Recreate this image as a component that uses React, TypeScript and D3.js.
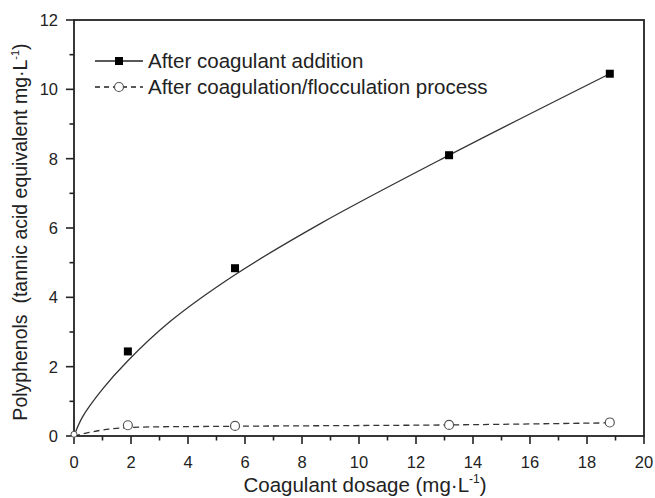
import React from "react";
import * as d3 from "d3";

const dosage = [1.89, 5.65, 13.16, 18.8];
const afterAddition = [2.44, 4.84, 8.1, 10.45];
const afterProcess = [0.31, 0.29, 0.32, 0.39];

// fitted curves
const fitAdditionX = [0, 0.3, 1.0, 1.89, 3.37, 5.65, 8.63, 13.16, 18.8];
const fitAdditionY = [0, 0.55, 1.35, 2.17, 3.3, 4.65, 6.12, 8.1, 10.45];
const fitProcessX = [0, 0.9, 1.89, 5.65, 13.16, 18.8];
const fitProcessY = [0, 0.16, 0.24, 0.28, 0.32, 0.38];

const xMajor = [0, 2, 4, 6, 8, 10, 12, 14, 16, 18, 20];
const yMajor = [0, 2, 4, 6, 8, 10, 12];
const xMinor = d3.range(1, 20, 2);
const yMinor = d3.range(1, 12, 2);

const legendLabels = ["After coagulant addition", "After coagulation/flocculation process"];

const W = 655, H = 498;
const L = 74, R = 644, T = 20, B = 436;
const FONT = "'Liberation Sans', Arial, sans-serif";
const AX = "#222";

export default function App() {
  const x = d3.scaleLinear().domain([0, 20]).range([L, R]);
  const y = d3.scaleLinear().domain([0, 12]).range([B, T]);
  const ptsA = fitAdditionX.map((v, i) => [v, fitAdditionY[i]] as [number, number]);
  const ptsP = fitProcessX.map((v, i) => [v, fitProcessY[i]] as [number, number]);
  const line = d3.line<[number, number]>().x(d => x(d[0])).y(d => y(d[1])).curve(d3.curveCatmullRom.alpha(0.5));

  return (
    <svg width={W} height={H} style={{ position: "absolute", left: 0, top: 0, background: "#fff" }} fontFamily={FONT}>
      <rect width={W} height={H} fill="#fff" />
      {/* curves */}
      <path d={line(ptsA) || ""} fill="none" stroke="#333" strokeWidth={1.3} />
      <path d={line(ptsP) || ""} fill="none" stroke="#333" strokeWidth={1.3} strokeDasharray="6,4" />
      {/* frame */}
      <rect x={L} y={T} width={R - L} height={B - T} fill="none" stroke={AX} strokeWidth={1.8} />
      {/* x ticks */}
      {xMajor.map(v => (
        <g key={"xm" + v}>
          <line x1={x(v)} x2={x(v)} y1={B} y2={B + 8} stroke={AX} strokeWidth={1.6} />
          <text x={x(v)} y={B + 32} textAnchor="middle" fontSize={16.5} fill="#222">{v}</text>
        </g>
      ))}
      {xMinor.map(v => (
        <line key={"xn" + v} x1={x(v)} x2={x(v)} y1={B} y2={B + 4.5} stroke={AX} strokeWidth={1.6} />
      ))}
      {yMajor.map(v => (
        <g key={"ym" + v}>
          <line x1={L - 8} x2={L} y1={y(v)} y2={y(v)} stroke={AX} strokeWidth={1.6} />
          <text x={L - 16} y={y(v) + 6} textAnchor="end" fontSize={16.5} fill="#222">{v}</text>
        </g>
      ))}
      {yMinor.map(v => (
        <line key={"yn" + v} x1={L - 4.5} x2={L} y1={y(v)} y2={y(v)} stroke={AX} strokeWidth={1.6} />
      ))}
      {/* markers */}
      {dosage.map((d, i) => (
        <rect key={"s" + i} x={x(d) - 4} y={y(afterAddition[i]) - 4} width={8} height={8} fill="#000" />
      ))}
      <circle cx={x(0)} cy={y(0.05)} r={3} fill="#fff" stroke="#555" strokeWidth={1} />
      {dosage.map((d, i) => (
        <circle key={"c" + i} cx={x(d)} cy={y(afterProcess[i])} r={4.5} fill="#fff" stroke="#555" strokeWidth={1.2} />
      ))}
      {/* legend */}
      <g>
        <line x1={95} x2={143} y1={61} y2={61} stroke="#222" strokeWidth={1.3} />
        <rect x={115} y={57} width={8} height={8} fill="#000" />
        <text x={148} y={68} fontSize={20.5} fill="#222">{legendLabels[0]}</text>
        <line x1={95} x2={143} y1={87} y2={87} stroke="#222" strokeWidth={1.3} strokeDasharray="5,4" />
        <circle cx={119} cy={87} r={4.5} fill="#fff" stroke="#555" strokeWidth={1.2} />
        <text x={148} y={94} fontSize={20.5} fill="#222">{legendLabels[1]}</text>
      </g>
      {/* axis titles */}
      <text x={(L + R) / 2 + 6} y={492} textAnchor="middle" fontSize={20.5} fill="#222">
        Coagulant dosage (mg·L<tspan fontSize={12} dy={-9}>-1</tspan><tspan dy={9}>)</tspan>
      </text>
      <text transform={`translate(27,${(T + B) / 2 + 4}) rotate(-90)`} textAnchor="middle" fontSize={19.5} fill="#222" style={{ whiteSpace: "pre" }}>
        {"Polyphenols  (tannic acid equivalent mg·L"}<tspan fontSize={11} dy={-8}>-1</tspan><tspan dy={8}>)</tspan>
      </text>
    </svg>
  );
}
